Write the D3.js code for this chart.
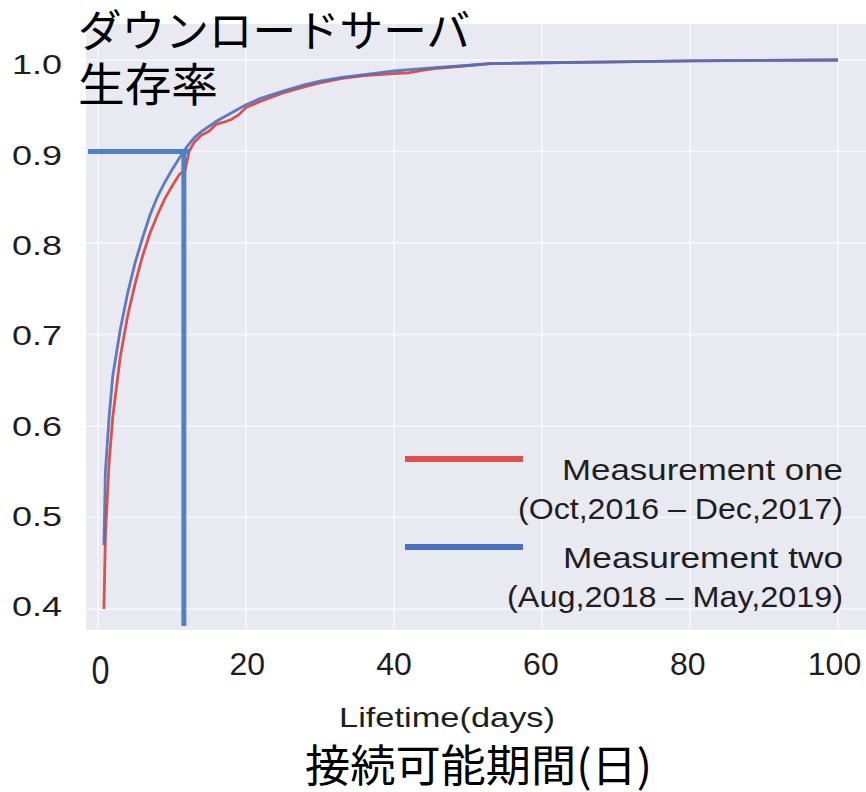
<!DOCTYPE html>
<html><head><meta charset="utf-8">
<script src="https://cdn.jsdelivr.net/npm/d3@7"></script>
<style>body{margin:0;background:#fff;}svg{display:block;}</style>
</head><body>
<script>
const xTicks = [0, 20, 40, 60, 80, 100];
const yTicks = [0.4, 0.5, 0.6, 0.7, 0.8, 0.9, 1.0];
const yTickLabels = ["0.4","0.5","0.6","0.7","0.8","0.9","1.0"];

const oneDays = [0.8,1,1.5,2,3,4,5,6,7,8,9,10,11,11.8,12.3,13,14,15,16,17,18,19,20,22,25,28,30,33,36,40,42,44,46,50,53,60,70,80,90,100];
const oneVals = [0.40,0.48,0.56,0.61,0.675,0.72,0.755,0.785,0.81,0.83,0.848,0.862,0.875,0.88,0.90,0.91,0.918,0.922,0.93,0.932,0.935,0.94,0.948,0.955,0.964,0.971,0.975,0.98,0.983,0.985,0.986,0.989,0.991,0.994,0.996,0.997,0.998,0.999,0.9995,1.0];

const twoDays = [0.8,1,1.5,2,3,4,5,6,7,8,9,10,11,12,13,14,16,18,20,22,25,28,30,33,36,40,43,46,50,53,60,70,80,90,100];
const twoVals = [0.47,0.55,0.61,0.655,0.705,0.745,0.778,0.805,0.83,0.85,0.866,0.88,0.893,0.905,0.915,0.922,0.933,0.942,0.951,0.958,0.966,0.973,0.977,0.981,0.984,0.988,0.99,0.992,0.994,0.996,0.997,0.998,0.999,0.9995,1.0];

const seriesNames = ["Measurement one", "Measurement two"];
const seriesPeriods = ["(Oct,2016 \u2013 Dec,2017)", "(Aug,2018 \u2013 May,2019)"];
const markerDay = [11.6];
const markerVal = [0.9];

const W = 866, H = 792;
const svg = d3.select("body").append("svg").attr("width", W).attr("height", H);
const x = d3.scaleLinear().domain([0, 100]).range([98, 838]);
const y = d3.scaleLinear().domain([0.4, 1.0]).range([609, 60]);
// label placement scales (labels in the original sit slightly off the grid)
const xLab = d3.scaleLinear().domain([0, 100]).range([100, 834]);
const yLab = d3.scaleLinear().domain([0.4, 1.0]).range([607, 65]);
const plot = {l: 86, r: 866, t: 24, b: 630};
const sans = "Liberation Sans, Arial, sans-serif";

svg.append("rect").attr("x", plot.l).attr("y", plot.t).attr("width", plot.r - plot.l).attr("height", plot.b - plot.t).attr("fill", "#e9e9f1");

// grid
svg.append("g").selectAll("line").data(xTicks).join("line")
  .attr("x1", d => x(d)).attr("x2", d => x(d)).attr("y1", plot.t).attr("y2", plot.b)
  .attr("stroke", "#f7f7fb").attr("stroke-width", 1.5);
svg.append("g").selectAll("line").data(yTicks).join("line")
  .attr("x1", plot.l).attr("x2", plot.r).attr("y1", d => y(d)).attr("y2", d => y(d))
  .attr("stroke", "#f7f7fb").attr("stroke-width", 1.5);

// y tick labels
const yAxis = d3.axisLeft(yLab).tickValues(yTicks).tickFormat((d, i) => yTickLabels[i]).tickSize(0).tickPadding(0);
const gy = svg.append("g").attr("transform", "translate(62,0)").call(yAxis);
gy.select(".domain").remove();
gy.selectAll("text").attr("font-family", sans).attr("font-size", 28).attr("fill", "#1e1e1e")
  .attr("textLength", 50).attr("lengthAdjust", "spacingAndGlyphs");

// x tick labels
const xAxis = d3.axisBottom(xLab).tickValues(xTicks).tickFormat(d3.format("d")).tickSize(0).tickPadding(0);
const gx = svg.append("g").attr("transform", "translate(0,652)").call(xAxis);
gx.select(".domain").remove();
gx.selectAll("text").attr("font-family", sans).attr("font-size", 32).attr("fill", "#1e1e1e");
gx.selectAll("text").filter(d => d === 0).attr("font-size", 40).attr("y", 4)
  .attr("textLength", 18).attr("lengthAdjust", "spacingAndGlyphs");

// lines
const line = d3.line().x(d => x(d[0])).y(d => y(d[1])).curve(d3.curveLinear);
const oneData = oneDays.map((d, i) => [d, oneVals[i]]);
const twoData = twoDays.map((d, i) => [d, twoVals[i]]);
const red = "#de5049", blue = "#4a70c0";
svg.append("path").datum(oneData).attr("d", line).attr("fill", "none").attr("stroke", red).attr("stroke-width", 2.8);
svg.append("path").datum(twoData).attr("d", line).attr("fill", "none").attr("stroke", blue).attr("stroke-width", 2.8).attr("stroke-opacity", 0.9);

// marker lines
svg.append("line").attr("x1", 88).attr("x2", x(markerDay[0]) + 6).attr("y1", y(markerVal[0])).attr("y2", y(markerVal[0]))
  .attr("stroke", "#4f82c4").attr("stroke-width", 5);
svg.append("line").attr("x1", x(markerDay[0])).attr("x2", x(markerDay[0])).attr("y1", y(markerVal[0])).attr("y2", 626)
  .attr("stroke", "#4f82c4").attr("stroke-width", 5);

// legend
const lg = svg.append("g");
const legColors = [red, blue];
const legY = [459, 547];
const nameW = [281, 280];
const perW = [325, 336];
legColors.forEach((c, i) => {
  lg.append("line").attr("x1", 405).attr("x2", 523).attr("y1", legY[i]).attr("y2", legY[i]).attr("stroke", c).attr("stroke-width", 6);
  lg.append("text").attr("x", 843).attr("y", legY[i] + 21).attr("text-anchor", "end")
    .attr("textLength", nameW[i]).attr("lengthAdjust", "spacingAndGlyphs")
    .attr("font-family", sans).attr("font-size", 30).attr("fill", "#1e1e1e").text(seriesNames[i]);
  lg.append("text").attr("x", 843).attr("y", legY[i] + 60).attr("text-anchor", "end")
    .attr("textLength", perW[i]).attr("lengthAdjust", "spacingAndGlyphs")
    .attr("font-family", sans).attr("font-size", 30).attr("fill", "#1e1e1e").text(seriesPeriods[i]);
});

// x-axis titles
svg.append("text").attr("x", 339).attr("y", 727).attr("textLength", 216).attr("lengthAdjust", "spacingAndGlyphs")
  .attr("font-family", sans).attr("font-size", 28).attr("fill", "#1e1e1e").text("Lifetime(days)");
svg.append("text").attr("x", 305).attr("y", 782).attr("textLength", 347).attr("lengthAdjust", "spacingAndGlyphs")
  .attr("font-family", "Noto Sans CJK JP").attr("font-size", 44).attr("fill", "#000").text("接続可能期間(日)");

// title
svg.append("text").attr("x", 78).attr("y", 47).attr("textLength", 392).attr("lengthAdjust", "spacingAndGlyphs")
  .attr("font-family", "Noto Sans CJK JP").attr("font-size", 44).attr("fill", "#000").text("ダウンロードサーバ");
svg.append("text").attr("x", 78).attr("y", 101).attr("textLength", 140).attr("lengthAdjust", "spacingAndGlyphs")
  .attr("font-family", "Noto Sans CJK JP").attr("font-size", 46).attr("fill", "#000").text("生存率");
</script>
</body></html>
